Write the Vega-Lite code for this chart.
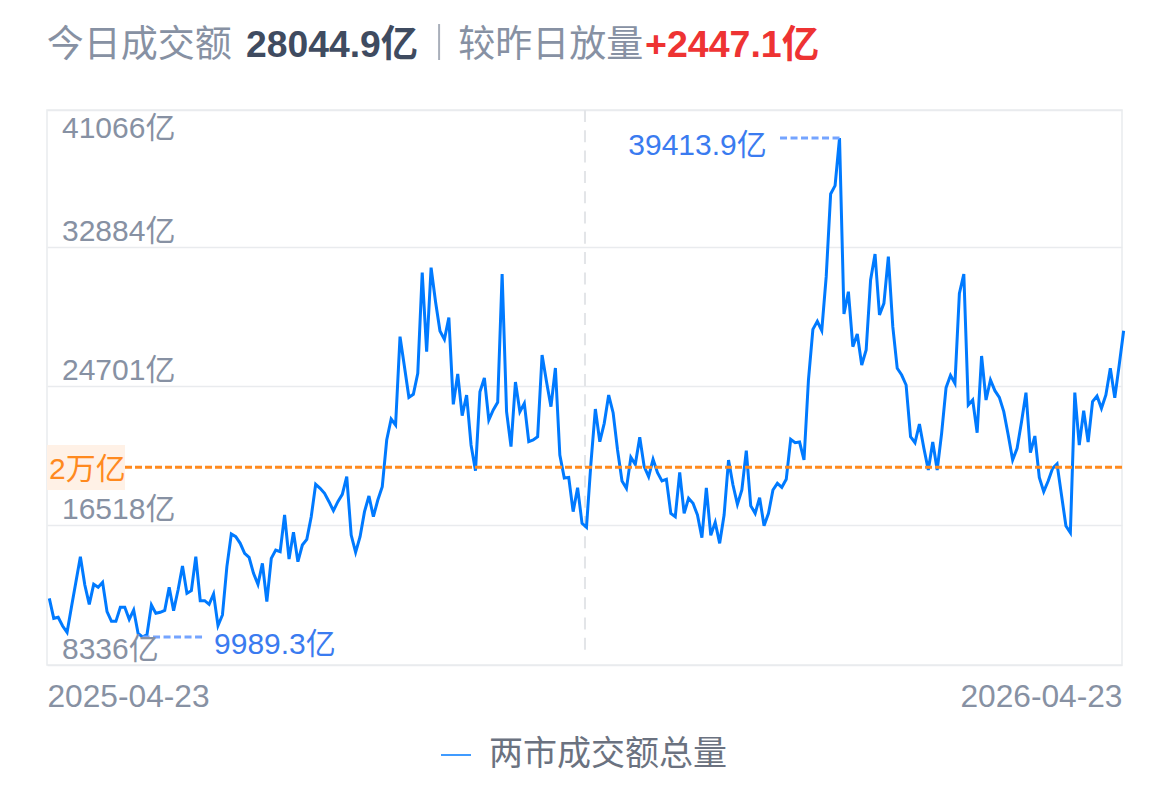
{
  "$schema": "https://vega.github.io/schema/vega-lite/v6.json",
  "width": 1075,
  "height": 555,
  "autosize": "none",
  "padding": {"left": 47, "top": 110, "right": 48, "bottom": 133},
  "background": "white",
  "config": {
    "view": {"stroke": "#e9ebee", "strokeWidth": 1.5},
    "text": {"font": "Liberation Sans, Noto Sans CJK SC", "baseline": "middle"}
  },
  "datasets": {
    "turnover": [
      {"d":0,"v":12267},{"d":1,"v":11088},{"d":2,"v":11147},{"d":3,"v":10636},{"d":4,"v":10262},{"d":5,"v":11776},{"d":6,"v":13250},{"d":7,"v":14725},{"d":8,"v":13054},{"d":9,"v":11914},
      {"d":10,"v":13093},{"d":11,"v":12916},{"d":12,"v":13211},{"d":13,"v":11481},{"d":14,"v":10911},{"d":15,"v":10911},{"d":16,"v":11737},{"d":17,"v":11737},{"d":18,"v":11029},{"d":19,"v":11579},
      {"d":20,"v":10203},{"d":21,"v":9989.3},{"d":22,"v":10125},{"d":23,"v":11874},{"d":24,"v":11383},{"d":25,"v":11442},{"d":26,"v":11560},{"d":27,"v":12916},{"d":28,"v":11540},{"d":29,"v":12759},
      {"d":30,"v":14174},{"d":31,"v":12562},{"d":32,"v":12720},{"d":33,"v":14725},{"d":34,"v":12130},{"d":35,"v":12130},{"d":36,"v":11914},{"d":37,"v":12523},{"d":38,"v":10656},{"d":39,"v":11285},
      {"d":40,"v":14135},{"d":41,"v":16061},{"d":42,"v":15904},{"d":43,"v":15511},{"d":44,"v":14921},{"d":45,"v":14685},{"d":46,"v":13742},{"d":47,"v":13093},{"d":48,"v":14331},{"d":49,"v":12071},
      {"d":50,"v":14626},{"d":51,"v":15118},{"d":52,"v":15019},{"d":53,"v":17182},{"d":54,"v":14587},{"d":55,"v":16160},{"d":56,"v":14430},{"d":57,"v":15413},{"d":58,"v":15747},{"d":59,"v":17083},
      {"d":60,"v":18990},{"d":61,"v":18754},{"d":62,"v":18459},{"d":63,"v":17968},{"d":64,"v":17437},{"d":65,"v":17968},{"d":66,"v":18400},{"d":67,"v":19442},{"d":68,"v":16002},{"d":69,"v":14980},
      {"d":70,"v":15904},{"d":71,"v":17378},{"d":72,"v":18302},{"d":73,"v":17083},{"d":74,"v":18066},{"d":75,"v":18853},{"d":76,"v":21605},{"d":77,"v":22843},{"d":78,"v":22489},{"d":79,"v":27698},
      {"d":80,"v":25929},{"d":81,"v":24121},{"d":82,"v":24298},{"d":83,"v":25536},{"d":84,"v":31472},{"d":85,"v":26814},{"d":86,"v":31767},{"d":87,"v":29762},{"d":88,"v":28032},{"d":89,"v":27541},
      {"d":90,"v":28819},{"d":91,"v":23708},{"d":92,"v":25497},{"d":93,"v":23039},{"d":94,"v":24258},{"d":95,"v":21310},{"d":96,"v":19796},{"d":97,"v":24455},{"d":98,"v":25261},{"d":99,"v":22784},
      {"d":100,"v":23374},{"d":101,"v":23826},{"d":102,"v":31394},{"d":103,"v":23275},{"d":104,"v":21211},{"d":105,"v":25025},{"d":106,"v":23275},{"d":107,"v":23767},{"d":108,"v":21506},{"d":109,"v":21605},
      {"d":110,"v":21801},{"d":111,"v":26617},{"d":112,"v":25044},{"d":113,"v":23570},{"d":114,"v":25850},{"d":115,"v":20720},{"d":116,"v":19364},{"d":117,"v":19403},{"d":118,"v":17378},{"d":119,"v":18794},
      {"d":120,"v":16690},{"d":121,"v":16454},{"d":122,"v":20229},{"d":123,"v":23433},{"d":124,"v":21506},{"d":125,"v":22587},{"d":126,"v":24258},{"d":127,"v":23216},{"d":128,"v":21015},{"d":129,"v":19187},
      {"d":130,"v":18754},{"d":131,"v":20582},{"d":132,"v":20170},{"d":133,"v":21762},{"d":134,"v":20032},{"d":135,"v":19442},{"d":136,"v":20464},{"d":137,"v":19678},{"d":138,"v":19187},{"d":139,"v":19285},
      {"d":140,"v":17280},{"d":141,"v":17083},{"d":142,"v":19698},{"d":143,"v":17280},{"d":144,"v":18165},{"d":145,"v":17870},{"d":146,"v":17182},{"d":147,"v":15845},{"d":148,"v":18774},{"d":149,"v":15983},
      {"d":150,"v":16749},{"d":151,"v":15511},{"d":152,"v":17182},{"d":153,"v":20425},{"d":154,"v":18951},{"d":155,"v":17811},{"d":156,"v":18656},{"d":157,"v":20975},{"d":158,"v":17732},{"d":159,"v":17280},
      {"d":160,"v":18204},{"d":161,"v":16552},{"d":162,"v":17280},{"d":163,"v":18656},{"d":164,"v":19049},{"d":165,"v":18813},{"d":166,"v":19285},{"d":167,"v":21644},{"d":168,"v":21447},{"d":169,"v":21486},
      {"d":170,"v":20425},{"d":171,"v":25143},{"d":172,"v":28130},{"d":173,"v":28602},{"d":174,"v":28052},{"d":175,"v":31236},{"d":176,"v":36111},{"d":177,"v":36603},{"d":178,"v":39413.9},{"d":179,"v":29035},
      {"d":180,"v":30352},{"d":181,"v":27108},{"d":182,"v":27855},{"d":183,"v":26027},{"d":184,"v":26912},{"d":185,"v":31040},{"d":186,"v":32573},{"d":187,"v":28976},{"d":188,"v":29664},{"d":189,"v":32416},
      {"d":190,"v":28288},{"d":191,"v":25831},{"d":192,"v":25437},{"d":193,"v":24848},{"d":194,"v":21801},{"d":195,"v":21447},{"d":196,"v":22548},{"d":197,"v":21113},{"d":198,"v":19835},{"d":199,"v":21486},
      {"d":200,"v":19835},{"d":201,"v":21997},{"d":202,"v":24690},{"d":203,"v":25418},{"d":204,"v":24946},{"d":205,"v":30253},{"d":206,"v":31393},{"d":207,"v":23668},{"d":208,"v":23963},{"d":209,"v":22037},
      {"d":210,"v":26558},{"d":211,"v":23963},{"d":212,"v":25143},{"d":213,"v":24514},{"d":214,"v":24120},{"d":215,"v":23275},{"d":216,"v":21899},{"d":217,"v":20425},{"d":218,"v":21113},{"d":219,"v":22685},
      {"d":220,"v":24396},{"d":221,"v":20857},{"d":222,"v":21840},{"d":223,"v":19403},{"d":224,"v":18557},{"d":225,"v":19186},{"d":226,"v":19933},{"d":227,"v":20189},{"d":228,"v":18361},{"d":229,"v":16533},
      {"d":230,"v":16140},{"d":231,"v":24396},{"d":232,"v":21309},{"d":233,"v":23334},{"d":234,"v":21486},{"d":235,"v":23865},{"d":236,"v":24199},{"d":237,"v":23472},{"d":238,"v":24258},{"d":239,"v":25831},
      {"d":240,"v":24101},{"d":241,"v":26027},{"d":242,"v":28044.9}
    ]
  },
  "encoding": {
    "x": {
      "field": "d",
      "type": "quantitative",
      "title": null,
      "scale": {"domain": [-0.52, 241.63], "nice": false, "zero": false},
      "axis": {
        "values": [-0.52, 241.63],
        "labelExpr": "datum.value < 100 ? '2025-04-23' : '2026-04-23'",
        "labelFlush": true,
        "labelFont": "Liberation Sans",
        "labelFontSize": 31.7,
        "labelColor": "#8791a3",
        "labelPadding": 16,
        "grid": false,
        "domain": false,
        "ticks": false
      }
    },
    "y": {
      "field": "v",
      "type": "quantitative",
      "title": null,
      "scale": {"domain": [8336, 41066], "nice": false, "zero": false},
      "axis": {
        "values": [8336, 16574, 24789, 32968, 41066],
        "labels": false,
        "domain": false,
        "ticks": false,
        "grid": true,
        "gridColor": "#e9ebee",
        "gridWidth": 1.5
      }
    }
  },
  "layer": [
    {
      "data": {"values": [{"d": -0.52, "d2": 17.05, "v": 21309, "v2": 18656}]},
      "mark": {"type": "rect", "color": "#fff1e6"},
      "encoding": {"x2": {"field": "d2"}, "y2": {"field": "v2"}}
    },
    {
      "data": {"values": [{"d": 120.66, "v": 41066, "v2": 9220}]},
      "mark": {"type": "rule", "color": "#e3e5e8", "strokeWidth": 2, "strokeDash": [12, 8.3]},
      "encoding": {"y2": {"field": "v2"}}
    },
    {
      "data": {"name": "turnover"},
      "mark": {"type": "line", "strokeWidth": 3, "strokeJoin": "miter", "clip": false},
      "encoding": {
        "color": {
          "datum": "两市成交额总量",
          "scale": {"range": ["#007aff"]},
          "legend": {
            "title": null,
            "orient": "none",
            "legendX": 392,
            "legendY": 628,
            "padding": 0,
            "symbolType": "stroke",
            "symbolSize": 900,
            "symbolStrokeWidth": 1.5,
            "labelFont": "Liberation Sans, Noto Sans CJK SC",
            "labelFontSize": 34,
            "labelColor": "#6b7280",
            "labelOffset": 16,
            "labelLimit": 400
          }
        }
      }
    },
    {
      "data": {"values": [{"d": 17.05, "d2": 241.63, "v": 20000}]},
      "mark": {"type": "rule", "color": "#ff8a1f", "strokeWidth": 3, "strokeDash": [7, 3]},
      "encoding": {"x2": {"field": "d2"}}
    },
    {
      "data": {"values": [{"d": 164.6, "d2": 178, "v": 39413.9}, {"d": 21, "d2": 34.6, "v": 9989.3}]},
      "mark": {"type": "rule", "color": "#74a4ff", "strokeWidth": 3, "strokeDash": [7, 3.5]},
      "encoding": {"x2": {"field": "d2"}}
    },
    {
      "data": {"values": [{"d": 87.8, "v": 46136, "v2": 44013}]},
      "mark": {"type": "rule", "color": "#a9afba", "strokeWidth": 2},
      "encoding": {"y2": {"field": "v2"}}
    },
    {
      "data": {"values": [{"d": 2.86, "v": 8336, "t": "8336亿"}, {"d": 2.86, "v": 16574, "t": "16518亿"}, {"d": 2.86, "v": 24789, "t": "24701亿"}, {"d": 2.86, "v": 32968, "t": "32884亿"}]},
      "mark": {"type": "text", "align": "left", "fontSize": 30, "color": "#8791a3", "dy": -15},
      "encoding": {"text": {"field": "t"}}
    },
    {
      "data": {"values": [{"d": 2.86, "v": 41066, "t": "41066亿"}]},
      "mark": {"type": "text", "align": "left", "fontSize": 30, "color": "#8791a3", "dy": 19},
      "encoding": {"text": {"field": "t"}}
    },
    {
      "data": {"values": [{"d": -0.07, "v": 20000, "t": "2万亿"}]},
      "mark": {"type": "text", "align": "left", "fontSize": 30, "color": "#ff8a1f", "dy": 3},
      "encoding": {"text": {"field": "t"}}
    },
    {
      "data": {"values": [{"d": 37.1, "v": 9989.3, "t": "9989.3亿"}]},
      "mark": {"type": "text", "align": "left", "fontSize": 30, "color": "#3a7bf0", "dy": 8},
      "encoding": {"text": {"field": "t"}}
    },
    {
      "data": {"values": [{"d": 161.6, "v": 39413.9, "t": "39413.9亿"}]},
      "mark": {"type": "text", "align": "right", "fontSize": 30, "color": "#3a7bf0", "dy": 8},
      "encoding": {"text": {"field": "t"}}
    },
    {
      "data": {"values": [{"d": -0.6, "v": 44839, "t": "今日成交额"}, {"d": 92.1, "v": 44839, "t": "较昨日放量"}]},
      "mark": {"type": "text", "align": "left", "fontSize": 37, "color": "#8791a3"},
      "encoding": {"text": {"field": "t"}}
    },
    {
      "data": {"values": [{"d": 44.3, "v": 44839, "t": "28044.9亿"}]},
      "mark": {"type": "text", "align": "left", "fontSize": 37.3, "fontWeight": "bold", "color": "#3f4b60"},
      "encoding": {"text": {"field": "t"}}
    },
    {
      "data": {"values": [{"d": 134.2, "v": 44839, "t": "+2447.1亿"}]},
      "mark": {"type": "text", "align": "left", "fontSize": 37.5, "fontWeight": "bold", "color": "#ee3333"},
      "encoding": {"text": {"field": "t"}}
    }
  ]
}
